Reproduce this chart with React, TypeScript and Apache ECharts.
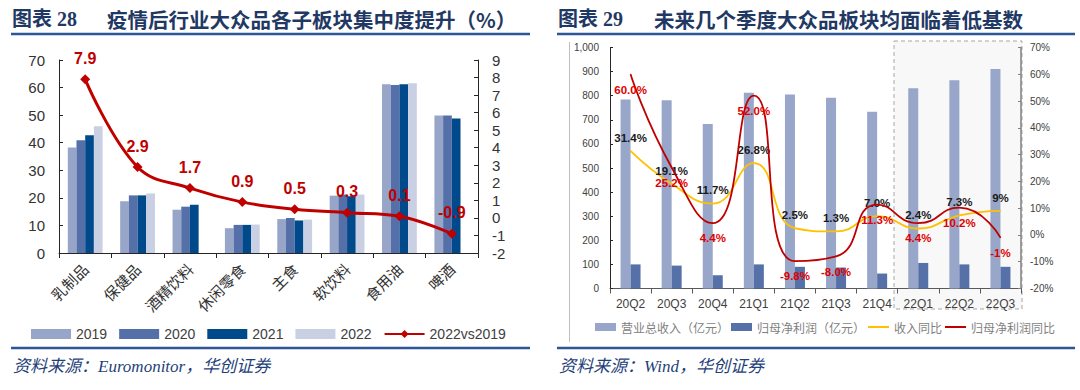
import React, { useEffect, useRef } from 'react';
import * as echarts from 'echarts';

// ---------- Left chart data (图表 28) ----------
const leftCategories = ['乳制品', '保健品', '酒精饮料', '休闲零食', '主食', '软饮料', '食用油', '啤酒'];
const share2019 = [38.3, 18.8, 15.7, 9.0, 12.3, 20.8, 61.2, 49.9];
const share2020 = [40.9, 20.9, 16.8, 10.2, 12.7, 21.2, 60.9, 49.9];
const share2021 = [42.7, 20.9, 17.5, 10.2, 11.8, 20.6, 61.2, 48.8];
const share2022 = [46.0, 21.6, null, 10.3, 12.1, 21.2, 61.6, null];
const change2022vs2019 = [7.9, 2.9, 1.7, 0.9, 0.5, 0.3, 0.1, -0.9];
const leftYearNames = ['2019', '2020', '2021', '2022'];
const leftLineName = '2022vs2019';

// ---------- Right chart data (图表 29) ----------
const quarters = ['20Q2', '20Q3', '20Q4', '21Q1', '21Q2', '21Q3', '21Q4', '22Q1', '22Q2', '22Q3'];
const revenue = [784, 781, 683, 812, 805, 791, 733, 831, 864, 911];
const netProfit = [100, 95, 55, 100, 90, 87, 62, 106, 100, 90];
const revenueYoY = [31.4, 19.1, 11.7, 26.8, 2.5, 1.3, 7.0, 2.4, 7.3, 9];
const profitYoY = [60.0, 25.2, 4.4, 52.0, -9.8, -8.0, 11.3, 4.4, 10.2, -1];
const revenueYoYLabels = ['31.4%', '19.1%', '11.7%', '26.8%', '2.5%', '1.3%', '7.0%', '2.4%', '7.3%', '9%'];
const profitYoYLabels = ['60.0%', '25.2%', '4.4%', '52.0%', '-9.8%', '-8.0%', '11.3%', '4.4%', '10.2%', '-1%'];
const rightSeriesNames = ['营业总收入（亿元）', '归母净利润（亿元）', '收入同比', '归母净利润同比'];

const SANS = '"Liberation Sans", Arial, "Noto Sans CJK SC", sans-serif';
const CJK = '"Noto Sans CJK SC", sans-serif';
const SERIF = '"Liberation Serif", "Noto Sans CJK SC", serif';

const TITLE_COLOR = '#1F3864';
const RULE_COLOR = '#2E5597';

export default function App() {
  const ref = useRef<HTMLDivElement>(null);

  useEffect(() => {
    if (!ref.current) return;
    const chart = echarts.init(ref.current, undefined, { renderer: 'svg' });

    const barColors = ['#97A5C9', '#5570A8', '#004A8C', '#C9D0E4'];
    const leftBars = [share2019, share2020, share2021, share2022].map((d, i) => ({
      name: leftYearNames[i],
      type: 'bar',
      xAxisIndex: 0,
      yAxisIndex: 0,
      data: d,
      barWidth: 8.7,
      barGap: '0%',
      itemStyle: { color: barColors[i] },
    }));

    const option: any = {
      animation: false,
      backgroundColor: '#ffffff',
      textStyle: { fontFamily: SANS },
      grid: [
        { left: 59, top: 60, width: 419, height: 193 },
        { left: 610, top: 47.5, width: 411, height: 241 },
      ],
      xAxis: [
        {
          type: 'category',
          gridIndex: 0,
          data: leftCategories,
          axisLine: { lineStyle: { color: '#262626', width: 1 } },
          axisTick: { show: true, length: 5, lineStyle: { color: '#262626' } },
          axisLabel: { rotate: 45, fontSize: 15, color: '#333', margin: 13, fontFamily: CJK },
        },
        {
          type: 'category',
          gridIndex: 1,
          data: quarters,
          axisLine: { lineStyle: { color: '#595959', width: 1 } },
          axisTick: { show: true, length: 5, lineStyle: { color: '#595959' } },
          axisLabel: { fontSize: 12, color: '#404040', margin: 9 },
        },
      ],
      yAxis: [
        {
          type: 'value',
          gridIndex: 0,
          min: 0,
          max: 70,
          interval: 10,
          axisLine: { show: true, lineStyle: { color: '#262626' } },
          axisTick: { show: true, inside: true, length: 4, lineStyle: { color: '#262626' } },
          splitLine: { show: false },
          axisLabel: { fontSize: 15, color: '#333', margin: 14 },
        },
        {
          type: 'value',
          gridIndex: 0,
          position: 'right',
          min: -2,
          max: 9,
          interval: 1,
          axisLine: { show: true, lineStyle: { color: '#262626' } },
          axisTick: { show: true, inside: true, length: 4, lineStyle: { color: '#262626' } },
          splitLine: { show: false },
          axisLabel: { fontSize: 15, color: '#333', margin: 14 },
        },
        {
          type: 'value',
          gridIndex: 1,
          min: 0,
          max: 1000,
          interval: 100,
          axisLine: { show: true, lineStyle: { color: '#262626' } },
          axisTick: { show: true, inside: true, length: 3, lineStyle: { color: '#262626' } },
          splitLine: { show: false },
          axisLabel: {
            fontSize: 10,
            color: '#404040',
            margin: 11,
            formatter: (v: number) => v.toLocaleString('en-US'),
          },
        },
        {
          type: 'value',
          gridIndex: 1,
          position: 'right',
          min: -20,
          max: 70,
          interval: 10,
          axisLine: { show: true, lineStyle: { color: '#808080', width: 1.5 } },
          axisTick: { show: true, inside: true, length: 3, lineStyle: { color: '#808080' } },
          splitLine: { show: false },
          axisLabel: { fontSize: 10, color: '#404040', margin: 9, formatter: '{value}%' },
        },
      ],
      legend: [
        {
          left: 31,
          top: 327,
          padding: 0,
          itemGap: 12,
          itemWidth: 40,
          itemHeight: 10,
          textStyle: { fontSize: 14, color: '#404040', fontFamily: SANS },
          data: [
            ...leftYearNames.map((n) => ({ name: n, icon: 'rect' })),
            { name: leftLineName },
          ],
        },
        {
          left: 595,
          top: 321,
          padding: 0,
          itemGap: 2,
          itemWidth: 21,
          itemHeight: 8,
          textStyle: { fontSize: 12, color: '#7F7F7F', fontFamily: CJK },
          data: [
            { name: rightSeriesNames[0], icon: 'rect' },
            { name: rightSeriesNames[1], icon: 'rect' },
            { name: rightSeriesNames[2], itemStyle: { opacity: 0 } },
            { name: rightSeriesNames[3], itemStyle: { opacity: 0 } },
          ],
        },
      ],
      series: [
        ...leftBars,
        {
          name: leftLineName,
          type: 'line',
          xAxisIndex: 0,
          yAxisIndex: 1,
          data: change2022vs2019,
          smooth: 0.4,
          symbol: 'diamond',
          symbolSize: 10,
          lineStyle: { color: '#C00000', width: 3 },
          itemStyle: { color: '#C00000' },
          label: {
            show: true,
            position: 'top',
            distance: 8,
            color: '#C00000',
            fontWeight: 'bold',
            fontSize: 16,
            fontFamily: SANS,
            formatter: (p: any) => Number(p.value).toFixed(1),
          },
          z: 5,
        },
        {
          name: rightSeriesNames[0],
          type: 'bar',
          xAxisIndex: 1,
          yAxisIndex: 2,
          data: revenue,
          barWidth: 10,
          barGap: '0%',
          itemStyle: { color: '#98A6CA' },
        },
        {
          name: rightSeriesNames[1],
          type: 'bar',
          xAxisIndex: 1,
          yAxisIndex: 2,
          data: netProfit,
          barWidth: 10,
          barGap: '0%',
          itemStyle: { color: '#5571A8' },
        },
        {
          name: rightSeriesNames[2],
          type: 'line',
          xAxisIndex: 1,
          yAxisIndex: 3,
          data: revenueYoY,
          smooth: 0.5,
          symbol: 'circle',
          symbolSize: 1,
          lineStyle: { color: '#FFC000', width: 1.8 },
          itemStyle: { color: '#FFC000' },
          label: {
            show: true,
            position: 'top',
            distance: 7,
            color: '#1a1a1a',
            fontWeight: 'bold',
            fontSize: 11.5,
            fontFamily: SANS,
            formatter: (p: any) => revenueYoYLabels[p.dataIndex],
          },
          z: 4,
        },
        {
          name: rightSeriesNames[3],
          type: 'line',
          xAxisIndex: 1,
          yAxisIndex: 3,
          data: profitYoY,
          smooth: 0.55,
          symbol: 'circle',
          symbolSize: 1,
          lineStyle: { color: '#C00000', width: 1.8 },
          itemStyle: { color: '#C00000' },
          label: {
            show: true,
            position: 'bottom',
            distance: 9,
            color: '#E00000',
            fontWeight: 'bold',
            fontSize: 11.5,
            fontFamily: SANS,
            formatter: (p: any) => profitYoYLabels[p.dataIndex],
          },
          z: 5,
        },
      ],
      graphic: [
        // forecast box
        {
          type: 'rect',
          z: -1,
          silent: true,
          shape: { x: 894, y: 41, width: 128, height: 268 },
          style: { fill: '#F8F8F8', stroke: '#A6A6A6', lineWidth: 1, lineDash: [4, 3] },
        },
        // right chart frame edge
        {
          type: 'line',
          silent: true,
          shape: { x1: 569.5, y1: 42, x2: 569.5, y2: 342 },
          style: { stroke: '#BFBFBF', lineWidth: 1 },
        },
        // titles
        {
          type: 'text',
          x: 12,
          y: 19,
          style: { text: '图表 28', fontSize: 20, fontWeight: 'bold', fontFamily: SERIF, fill: TITLE_COLOR, verticalAlign: 'middle' },
        },
        {
          type: 'text',
          x: 107,
          y: 19,
          style: { text: '疫情后行业大众品各子板块集中度提升（%）', fontSize: 20.5, fontWeight: 'bold', fontFamily: CJK, fill: TITLE_COLOR, verticalAlign: 'middle' },
        },
        {
          type: 'text',
          x: 558,
          y: 19,
          style: { text: '图表 29', fontSize: 20, fontWeight: 'bold', fontFamily: SERIF, fill: TITLE_COLOR, verticalAlign: 'middle' },
        },
        {
          type: 'text',
          x: 654,
          y: 19,
          style: { text: '未来几个季度大众品板块均面临着低基数', fontSize: 20.5, fontWeight: 'bold', fontFamily: CJK, fill: TITLE_COLOR, verticalAlign: 'middle' },
        },
        // rules
        { type: 'line', silent: true, shape: { x1: 11, y1: 34, x2: 530, y2: 34 }, style: { stroke: RULE_COLOR, lineWidth: 2.5 } },
        { type: 'line', silent: true, shape: { x1: 557, y1: 34, x2: 1075, y2: 34 }, style: { stroke: RULE_COLOR, lineWidth: 2.5 } },
        { type: 'line', silent: true, shape: { x1: 11, y1: 348, x2: 530, y2: 348 }, style: { stroke: RULE_COLOR, lineWidth: 2.5 } },
        { type: 'line', silent: true, shape: { x1: 557, y1: 348, x2: 1075, y2: 348 }, style: { stroke: RULE_COLOR, lineWidth: 2.5 } },
        // sources
        {
          type: 'text',
          x: 13,
          y: 366,
          style: { text: '资料来源：Euromonitor，华创证券', fontSize: 17, fontStyle: 'italic', fontFamily: SERIF, fill: '#1F3F7A', verticalAlign: 'middle' },
        },
        {
          type: 'text',
          x: 559,
          y: 366,
          style: { text: '资料来源：Wind，华创证券', fontSize: 17, fontStyle: 'italic', fontFamily: SERIF, fill: '#1F3F7A', verticalAlign: 'middle' },
        },
      ],
    };

    chart.setOption(option);
    return () => {
      chart.dispose();
    };
  }, []);

  return (
    <div
      ref={ref}
      style={{ position: 'absolute', left: 0, top: 0, width: 1080, height: 390, background: '#fff' }}
    />
  );
}
